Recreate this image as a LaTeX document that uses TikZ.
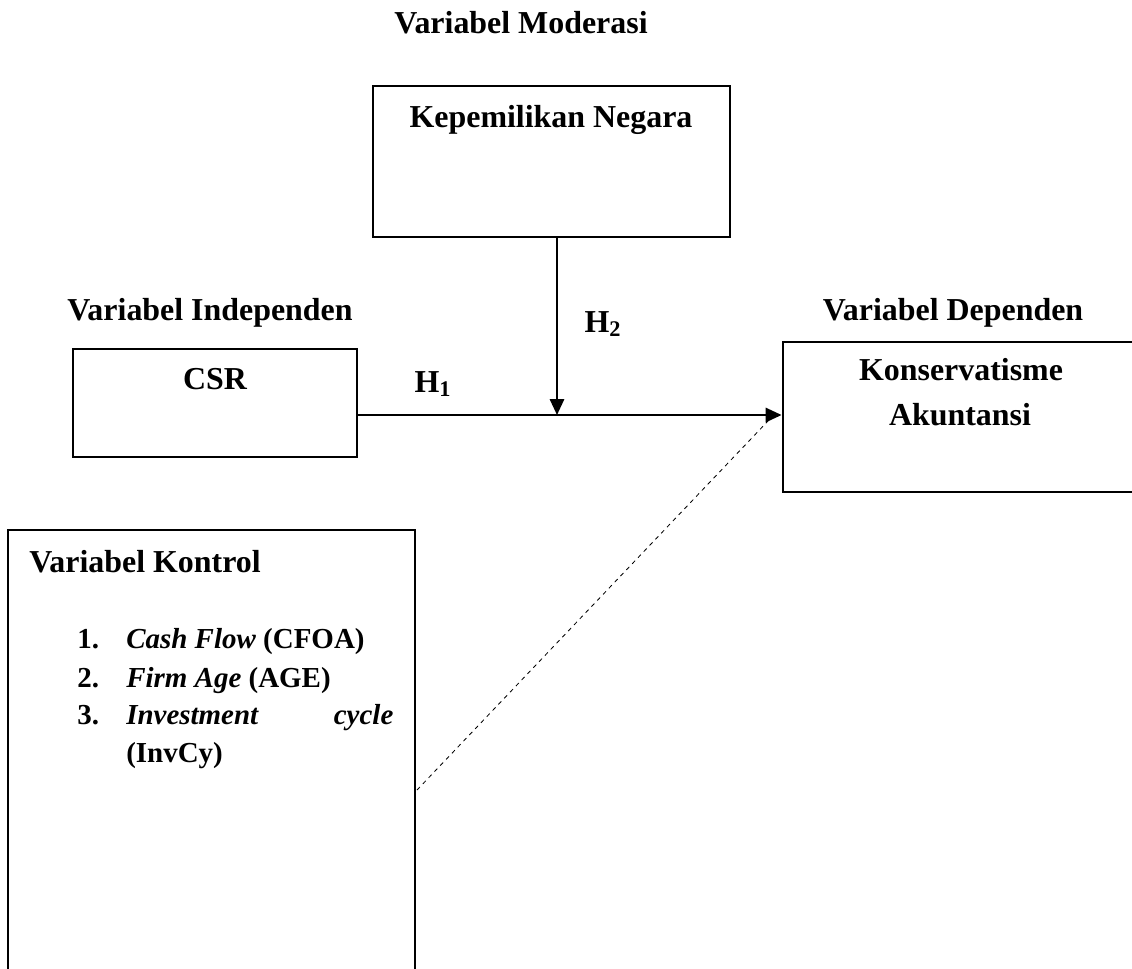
\documentclass[tikz,border=0pt]{standalone}
\usepackage{fontspec}
\setmainfont{Liberation Serif}
\usepackage{tikz}
\usetikzlibrary{arrows.meta,positioning,calc}

\tikzset{
  varbox/.style={draw, line width=2pt, inner sep=0pt},
  boxtext/.style={font=\fontsize{22.7}{27}\selectfont\bfseries, anchor=base, inner sep=0pt},
  listtext/.style={font=\fontsize{20.6}{25}\selectfont\bfseries, anchor=base west, inner sep=0pt},
  hyparrow/.style={-{Triangle[length=0.4cm, width=0.36cm]}, line width=1.4pt}
}

\begin{document}
\begin{tikzpicture}[x=0.025cm, y=-0.025cm, >=Latex]
  \useasboundingbox (0,0) rectangle (1132,968);
  \clip (0,0) rectangle (1132,968);

  % headings
  \node[boxtext] (headmod) at (521,33) {Variabel Moderasi};
  \node[boxtext] (headind) at (210,320) {Variabel Independen};
  \node[boxtext] (headdep) at (953,320) {Variabel Dependen};

  % boxes
  \node[varbox, minimum width=8.925cm, minimum height=3.775cm] (moderasi) at (551.5,161.5) {};
  \node[boxtext] at (551,127) {Kepemilikan Negara};

  \node[varbox, minimum width=7.1cm, minimum height=2.7cm] (csr) at (215,403) {};
  \node[boxtext] at (215,389) {CSR};

  \node[varbox, minimum width=9.175cm, minimum height=3.75cm] (dependen) at (966.5,417) {};
  \node[boxtext] at (961,380) {Konservatisme};
  \node[boxtext] at (960,425) {Akuntansi};

  \node[varbox, minimum width=10.175cm, minimum height=11.75cm] (kontrol) at (211.5,765) {};
  \node[listtext, font=\fontsize{22.7}{27}\selectfont\bfseries] at (29,572) {Variabel Kontrol};
  \node[listtext] at (77,648) {1.};
  \node[listtext] at (126,648) {\textit{Cash Flow} (CFOA)};
  \node[listtext] at (77,687) {2.};
  \node[listtext] at (126,687) {\textit{Firm Age} (AGE)};
  \node[listtext] at (77,724) {3.};
  \node[listtext] at (126,724) {\makebox[6.675cm][s]{\textit{Investment} \textit{cycle}}};
  \node[listtext] at (126,762) {(InvCy)};

  % connectors
  \coordinate (junction) at (557,415);
  \coordinate (dashstart) at (417,790);
  \coordinate (dashend) at (768,421);
  \draw[hyparrow] (csr.east |- junction) -- (dependen.west |- junction);
  \draw[hyparrow] (moderasi.south -| junction) -- (junction);
  \draw[dashed, line width=0.6pt] (dashstart) -- (dashend);

  \node[boxtext] (h1) at (433,392) {H\textsubscript{1}};
  \node[boxtext] (h2) at (603,332) {H\textsubscript{2}};
\end{tikzpicture}
\end{document}
